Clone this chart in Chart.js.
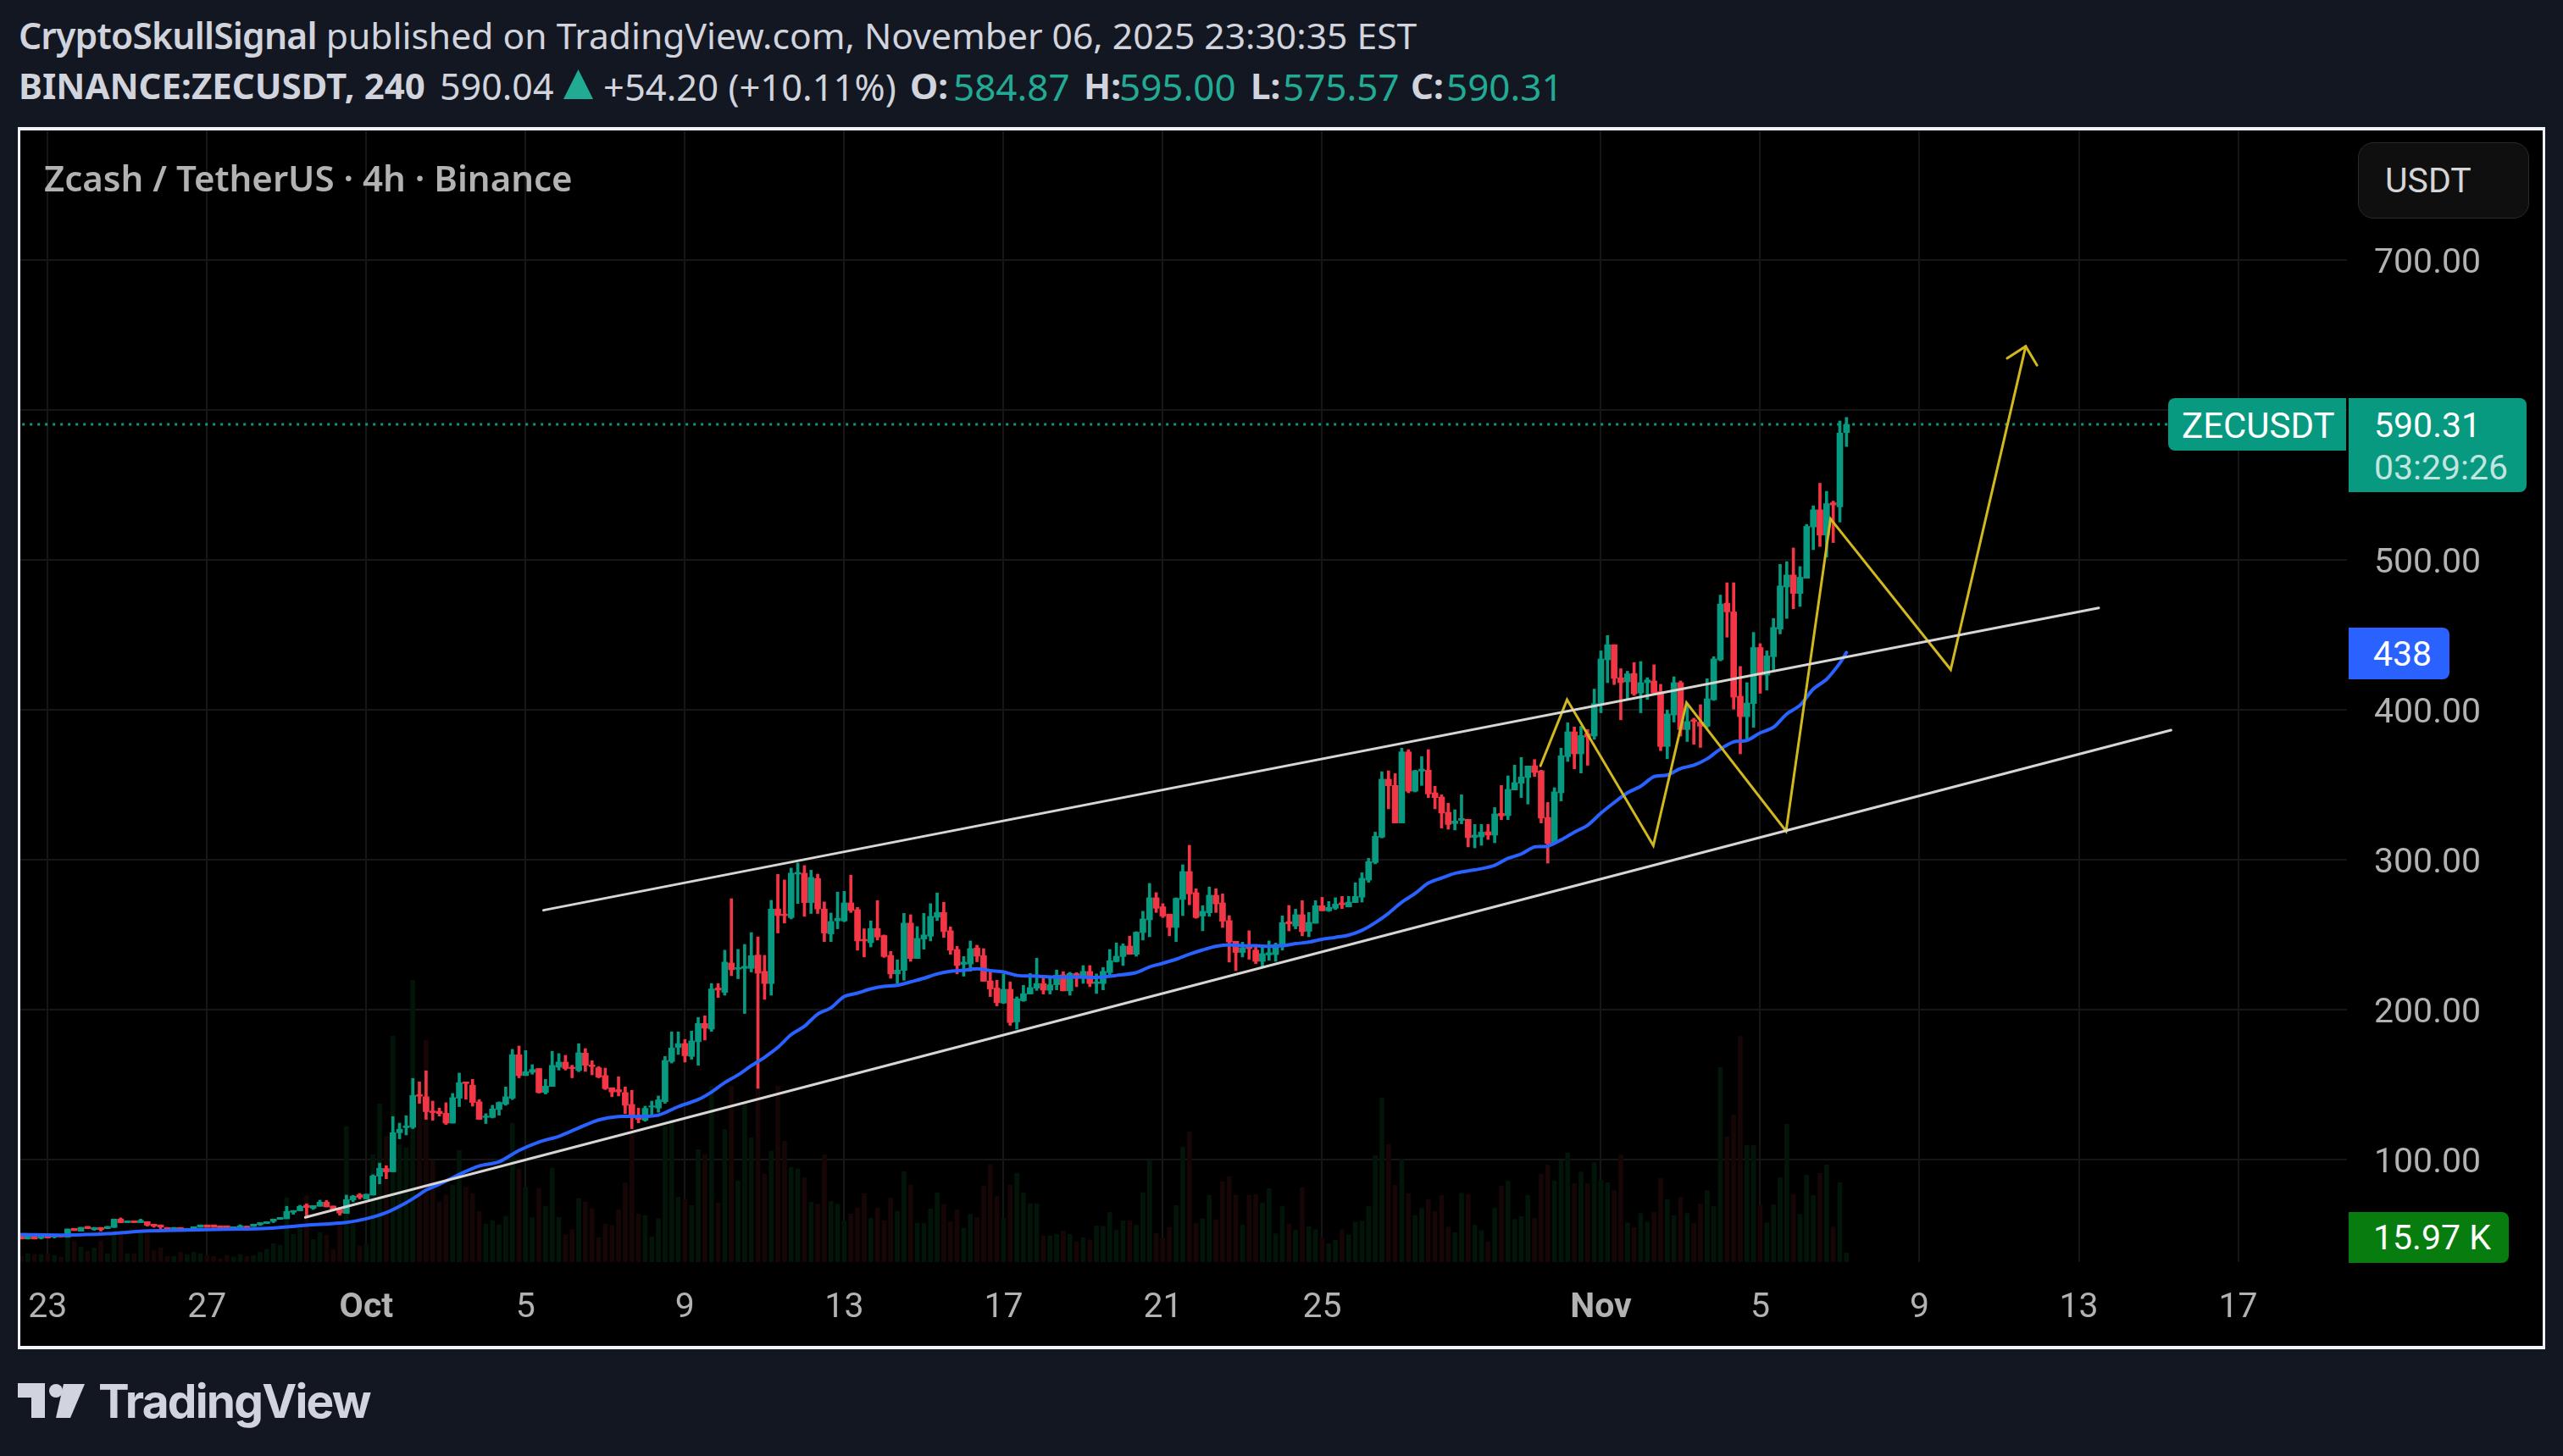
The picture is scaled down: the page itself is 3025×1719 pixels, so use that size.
<!DOCTYPE html>
<html lang="en">
<head>
<meta charset="UTF-8" />
<title>BINANCE:ZECUSDT, 240</title>
<style>
  html, body { margin: 0; width: 3025px; height: 1719px; background: #131722; overflow: hidden; }
  .head { position: absolute; left: 22px; font: 42.6px "Noto Sans", sans-serif; color: #d1d4dc; white-space: pre; }
  .head b { font-weight: 600; letter-spacing: -0.8px; }
  .bit { position: absolute; top: 72px; font: 44px "Noto Sans", sans-serif; color: #d1d4dc; white-space: pre; }
  .bit.b { font-weight: 700; font-size: 42px; }
  .up { color: #22ab94; }
  #tri { position: absolute; left: 665px; top: 82px; width: 35px; height: 35px; background: #22ab94; clip-path: polygon(50% 0, 100% 100%, 0 100%); }
  #frame { position: absolute; left: 21px; top: 150px; width: 2983px; height: 1443px; box-sizing: border-box;
    background: #000; border: solid #f0f3fa; border-width: 4px 3px; }
  canvas { position: absolute; left: 24px; top: 154px; }
  #title { position: absolute; left: 52px; top: 181px; font: 600 42px "Noto Sans", sans-serif; color: #b2b2b2; white-space: pre; }
  .tag { position: absolute; box-sizing: border-box; display: flex; align-items: center; font: 41px Roboto, sans-serif; color: #fff; }
  #unit { left: 2783px; top: 168px; width: 202px; height: 90px; padding-left: 31px; background: #0f0f0f; border: 1px solid #2a2a2a;
    border-radius: 18px; color: #d6d6d6; }
  #sym { left: 2559px; top: 470px; width: 210px; height: 62px; padding: 2px 0 0 16px; font-size: 42px; background: #089981; border-radius: 8px 0 0 8px; }
  #last { left: 2772px; top: 470px; width: 210px; height: 111px; padding: 2px 0 0 30px; background: #089981; border-radius: 0 8px 8px 0;
    flex-direction: column; align-items: flex-start; justify-content: center; line-height: 50px; }
  #last span { color: rgba(255,255,255,.75); }
  #ma { left: 2772px; top: 741px; width: 119px; height: 61px; padding-left: 29px; background: #2962ff; border-radius: 0 8px 8px 0; }
  #vol { left: 2772px; top: 1431px; width: 189px; height: 60px; padding-left: 29px; background: #067d0e; border-radius: 0 8px 8px 0; }
  #logo { position: absolute; left: 0; top: 1600px; }
  #brand { position: absolute; left: 116px; top: 1621px; font: 700 55px Inter, sans-serif; color: #d1d4dc; letter-spacing: -1.8px; }
</style>
</head>
<body>
<div class="head" style="top:12px"><b>CryptoSkullSignal</b> published on TradingView.com, November 06, 2025 23:30:35 EST</div>
<span class="bit b" style="left:22px">BINANCE:ZECUSDT, 240</span>
<span class="bit" style="left:519px;font-size:43px">590.04</span>
<div id="tri"></div>
<span class="bit" style="left:712px;font-size:43.5px">+54.20 (+10.11%)</span>
<span class="bit b" style="left:1074px">O:</span><span class="bit up" style="left:1125px">584.87</span>
<span class="bit b" style="left:1279px">H:</span><span class="bit up" style="left:1321px">595.00</span>
<span class="bit b" style="left:1476px">L:</span><span class="bit up" style="left:1514px">575.57</span>
<span class="bit b" style="left:1665px">C:</span><span class="bit up" style="left:1707px">590.31</span>
<div id="frame"></div>
<canvas id="chart" width="2977" height="1435"></canvas>
<div id="title">Zcash / TetherUS · 4h · Binance</div>
<div class="tag" id="unit">USDT</div>
<div class="tag" id="sym">ZECUSDT</div>
<div class="tag" id="last">590.31<span>03:29:26</span></div>
<div class="tag" id="ma">438</div>
<div class="tag" id="vol">15.97 K</div>
<svg id="logo" width="110" height="90" viewBox="0 1600 110 90" fill="#d1d4dc">
  <path d="M21 1633H53V1674H37V1650H21Z" /><circle cx="66" cy="1642" r="8" /><path d="M75 1634H100L83 1674H66Z" />
</svg>
<div id="brand">TradingView</div>

<script src="https://cdn.jsdelivr.net/npm/chart.js"></script>
<script>
// 4h candles
const opens = [
  49,47,49,47.5,49,48.3,49.6,48.3,54.1,52.2,
  55.4,53.3,54.7,53.9,54.7,60.3,57.9,59.1,57.9,58.6,
  56.9,56.4,54.7,53.3,54.7,52.8,53.5,54.8,56.4,56.4,
  55.8,55.8,53.9,54.3,55.6,55.4,56.5,57.3,58.8,60.1,
  60.5,64.8,65.8,69.5,67.5,68.8,71.6,69,66.7,64.1,
  73.1,76.5,73.7,76.3,88.9,94,91.8,117.9,121.3,121.5,
  143.4,141.9,132.4,132.2,130.9,124.3,140.9,151.8,149.6,138.5,
  128.1,128.1,133.4,137,140.9,169.9,156,158.2,160.7,144.7,
  148.8,161.6,165,161.6,159.4,171,163.1,161.2,156,147.9,
  146.6,144.7,136.8,129.2,126.2,135,134.3,138.6,165.4,174.8,
  177.4,168.8,178.6,190.8,187,214.4,211.5,231.1,226.9,227.5,
  227.5,236.4,225.5,217.4,267.1,263.7,261.4,290.4,291,271.4,
  287.4,267.1,250.5,259.2,259.2,271.2,266.7,246.9,244.7,254.1,
  249.4,236.2,223.8,226.2,257.7,234.1,247.1,249,261.6,264.8,
  252.6,240.1,230.2,230.4,241.1,236,219.2,214.4,204.4,213.6,
  191.8,205.9,210.4,214.3,217.4,212.9,216.6,223.2,212.5,224,
  220.8,225.5,217.4,217.4,224.7,232,235.4,242.4,236.9,251.4,
  259.9,274.6,268.6,263.7,254.8,273.5,292.1,278,262.4,264.6,
  276.3,271.2,259.4,245.6,238.1,242,239.7,232.2,236.5,236.7,
  242.6,258.7,255.7,263.3,252.3,257.6,269.3,265.9,267.6,271.2,
  268.5,271.4,275,286.4,298.1,315,353.7,349.5,324.5,371.9,
  345.7,359.1,359.7,344.6,341.8,331.6,324.1,326.2,326.9,314.9,
  315.2,318.6,316.4,330.9,329.4,346.5,351,354.8,362.7,359.3,
  328.2,310.9,344.6,368.7,385.3,370.6,384,382.5,403.4,433.3,
  443.4,421.4,418.6,424.2,411.2,418.1,419.2,412.1,375.5,396.5,
  418.1,386.8,393.3,391.8,389,406.7,433.3,471.1,465.3,409,
  395.4,404.1,441.5,423.1,435.4,453.8,481.9,489.9,477.6,487.7,
  521.9,533.4,516.5,538.1,535.3,584.87
];
const highs = [
  49,49,49,49,49,49.6,49.6,53.7,54.1,54.8,
  55.4,54.7,54.7,55.4,60.3,61.1,59.1,59.1,60.3,58.6,
  56.9,56.4,54.7,54.7,54.7,54.1,55.2,56.4,56.4,56.4,
  55.8,55.8,55.2,56.5,55.6,56.9,57.9,58.6,60.3,61.4,
  68.8,66,69.5,70.5,69.3,72.9,72.7,69,68,76.3,
  76.1,77.4,76.9,89.9,97.6,95.9,128.7,124.3,129.2,154.1,
  151.8,159.2,139,134.3,137.9,144.1,157.7,151.8,153.5,140,
  130.6,136.2,138.5,148.4,173.5,175.7,172.7,163.3,160.7,153.5,
  172.2,170.7,169.5,162.9,177.3,174,165.9,162,161,147.9,
  155.2,148.4,146.2,134.3,135.6,139,142.4,168.8,185.2,185.2,
  180.1,185.7,194.8,195.9,217.4,217.4,239.6,274,240.2,243.5,
  251.4,248.6,236.2,272.9,290.2,286.5,294.4,297.8,296.1,293,
  290.4,271.8,264.4,278.4,278.9,289.7,268.2,253.9,259.2,272.7,
  249.8,238.8,233.2,264.2,263.3,255.4,264.2,270.7,277.8,271.6,
  255.2,242.2,235.4,245.8,243,240.7,226.4,219.6,223.8,218.5,
  208.5,216.2,224.1,234.3,222.4,221.9,226.4,225.3,224.9,224.7,
  229.4,229.4,223.8,228.1,240.1,244.5,243.9,249,252,265.6,
  284.2,278,270.7,263.7,274.6,296.6,309.6,280.6,269.3,281.8,
  280.6,277.2,262.7,245.6,245,252.6,242.9,241.6,245.8,244.4,
  262.5,269.5,267,272.7,264.8,272.7,274.9,272.1,274.6,275.5,
  275.5,284.6,291.3,300.9,318.4,358.7,359.3,357.4,374.4,373.4,
  359.7,368.7,373.4,349,343.3,337.7,333.3,343.3,326.9,323.5,
  323.5,323.5,334.8,349.5,355.9,363.1,368.2,362.5,366.8,359.7,
  338.2,348,374.4,391.3,388.5,389,386.8,413.8,439.3,449.5,
  443.4,427.4,425.7,431.5,432.2,421.4,430,417,399.8,422,
  419.2,403,394.4,403.4,420.7,435.4,476.5,484.7,484.7,428.9,
  418.1,451.6,444.1,439.3,460.9,497,498.8,507.9,495.5,523.6,
  536,551.1,545.7,539.2,592.6,595
];
const lows = [
  47,47,47,47,47.7,47.7,48.4,48.3,52.6,52.2,
  53.9,52.8,52.2,53.9,54.7,57.9,57.9,57.9,57.9,55.6,
  54.8,53.9,53.3,53.3,53.3,52.8,53.5,54.8,54.8,54.8,
  54.5,53.2,53.9,54.3,53.5,55.4,56,57.3,57.9,60.1,
  60.5,63.5,65.8,62.6,66.7,68.8,68.4,66.7,62.9,64.1,
  71.8,73.7,73.7,76.3,83.8,87.2,91.8,113.8,116.4,120.6,
  137.5,126.8,126.2,129,123.4,124.3,135.3,140.3,135.6,126.8,
  124,127.7,129.6,136.2,140,154.5,156,156.9,144.3,143.7,
  148.8,159.7,159.7,154.5,158.6,158.8,156.5,154.5,146.7,141.9,
  142.4,130.6,120.6,124.5,125.5,129.6,131.5,137.5,164.4,170.1,
  165,166.9,162.9,179.7,185.5,208.1,209.6,222.6,220.6,197.4,
  225.1,147.5,206.8,209.6,251.1,257.7,260.5,270.8,262.2,264.1,
  264.1,245.4,245.4,253.9,258.6,264.8,239.6,235.1,241.8,246.4,
  234.8,220.9,217.5,219.6,232.2,234.1,240.3,245.8,259.4,248.2,
  236.9,223.8,222.3,225.6,231.9,218.9,208.7,202.5,204,189.5,
  187,205.5,210.4,212.8,210.4,210.4,213.2,212.5,209.6,215.3,
  217.5,215.3,210.8,213.2,221.9,231.7,229.4,236.9,235.6,246.4,
  248.6,264.8,261.4,249.2,245.4,262.7,269.9,260.9,252.6,262.2,
  264.8,254.8,231.7,226,235.1,233.6,230.7,228.4,232.9,232.2,
  239.7,252.5,253.9,249.2,248.6,257.6,265.9,265.5,266.7,267.4,
  268.5,271.4,271.7,284.9,297.2,314.5,333.9,324.5,324.5,344.6,
  345.2,349.5,341.4,333.9,321.1,320.3,319.8,323.9,308.5,307.9,
  309.6,313.5,311.3,326.7,326.7,346.5,341.4,337.1,355.5,324.5,
  297.7,310.9,339.2,365.5,360.6,357.8,363,380.3,398,418.1,
  416.8,393.3,407.3,409.5,398,406.9,410.6,372.7,367.3,391.8,
  382.4,378.8,377,374.9,387.9,406.2,432.6,448.4,400.4,370.6,
  379.6,388.3,411,413.2,426.8,450.6,460.9,467.4,468.9,487.7,
  506.8,508.9,501.8,511.5,525.2,575.57
];
const closes = [
  47,49,47,49,47.7,49.6,48.4,53.7,52.6,54.8,
  53.9,54.7,53.3,55.4,60.3,57.9,59.1,57.9,59.4,56.2,
  55.6,55,53.3,54.7,53.3,54.1,55.2,56.4,54.8,54.8,
  54.5,54.3,55.2,55.8,54.3,56.9,57.9,58.6,60.3,61.4,
  65.4,66,68.8,68,69.3,71.6,68.4,66.7,64.3,73.3,
  75.6,74.8,76.9,89.1,94.2,91.8,117.9,120.2,122.4,142.8,
  142.2,131.9,131.3,130.7,124.3,141.3,151.3,150.7,138.1,126.8,
  129,133.8,138.1,141.9,169.9,156,158.6,160.1,144.7,149,
  162.8,165,160.7,160.7,171.2,162.9,162,155,147.3,145.1,
  145.1,136.2,128.7,126.8,134.1,135.8,139.8,166.1,174.4,177.3,
  169.2,179.1,190.8,187.6,213.8,213,231.7,226.6,228.1,228.9,
  236,224.3,217.4,267.1,262.7,262.7,291,291.5,271.4,288.2,
  267.1,251.1,258.8,260.9,271.2,266.1,245.8,245.8,254.1,248.4,
  235.4,223.8,226.4,257.7,234.1,247.5,249.8,262.2,264.8,252,
  239.6,229.4,231.7,240.7,235.6,218.9,213.8,204.6,213.6,191.4,
  207.2,210.6,214.7,217.4,213,216.6,223,212.5,224.1,220.8,
  225.5,217.4,218.5,225.5,232.6,235.6,242.4,236.9,251.6,260.5,
  274.6,267.6,262.4,254.8,274.2,292.1,277.2,261.4,265.6,276.3,
  270.5,259,245.1,238.1,241.1,240.7,232.2,237.3,237.9,243.5,
  258,257.2,263.3,252,258.2,269.3,265.9,268.2,270.4,269.9,
  271.7,275.5,287.6,298.7,315.6,353.7,349.3,324.5,371.9,345.7,
  359.3,360.4,343.9,341.4,331.1,323.5,325.8,327.5,314.7,316.4,
  318.4,316.4,330.5,329.2,346.9,351.4,355.2,362.5,358.2,327.7,
  310.9,345.2,369.3,385.3,370.6,382.8,381.8,404.1,433.9,443.4,
  420.9,418.1,424,410.6,418.1,419.9,411.2,375.5,397.2,418.1,
  386.8,392.2,392.2,389,407.3,433.9,470.5,465.3,408.4,395.4,
  404.5,441.5,423.1,435.9,454.9,482.6,489.9,477.6,488.4,522.3,
  533.4,516.5,537.5,536.6,584.6,590.31
];
// volume in thousands
const volumes = [
  10,15,13.5,13.5,15,11.5,9,45,37.5,26.5,
  19.5,25,37.5,15,47.5,50,15,15,52.5,50,
  20,25,10,10,17.5,13.5,17.5,15,12.5,10,
  6,11.5,9,13.5,10,11.5,17.5,22.5,32.5,30,
  114,49,60,117.5,40,52.5,47.5,22.5,70,240,
  67.5,28.5,31.5,190,280,222.5,400,207.5,202.5,499,
  285,392.5,180,106.5,119,136.5,197.5,132.5,121.5,90,
  67.5,73.5,66,81,246,165,132.5,78.5,131,99,
  166.5,79,48.5,57.5,112.5,106.5,95,43.5,67.5,65,
  92.5,140,230,85,82.5,45,77,240,252.5,115,
  111.5,100,199,190,311.5,105,235,311.5,143.5,281,
  220,310,156,196.5,311.5,214,167.5,165,149,106,
  102.5,190,107.5,102.5,72.5,85,96,121,77.5,96,
  73.5,113.5,90,160,136.5,69,69,94,122.5,102,
  71.5,92.5,60,85,79,135,172.5,117,77.5,136.5,
  157.5,123,103.5,103.5,46.5,46.5,49,55,49,36,
  43,39,64,63.5,88,57,73,73,65,123,
  180,51,42,61.5,100,204,231,69,76.5,118.5,
  75,142.5,151.5,118.5,66,118.5,120,105,130,50,
  99,67.5,56,132,63,57.5,42.5,32.5,39,57.5,
  48.5,71,72.5,99,189,291,208.5,136,183,121,
  82.5,95,111,90,118,62,52,122,119.5,65.5,
  56,35.5,95.5,134.5,143.5,75.5,80.5,118,77.5,155.5,
  172,143.5,179.5,193,139,159.5,139,176,145,140.5,
  126.5,189.5,69.5,61,86,71,88,148,110.5,82,
  114.5,86,68.5,103,126.5,98.5,344.5,221.5,260.5,399.5,
  206.5,206.5,101.5,69.5,101.5,149.5,244,119.5,84.5,154,
  118,157,172,62,140.5,15.97
];
// moving average, read every few candles
const maIndex = [0,7,13,19,25,31,37,43,49,52,55,58,60,61,63,66,69,72,75,78,81,84,87,90,93,96,99,102,104,106,108,110,112,114,116,118,120,122,124,126,128,130,132,134,136,138,140,142,144,146,148,150,153,156,159,162,165,168,170,172,174,176,178,180,182,184,186,188,190,192,194,196,198,200,202,204,206,208,210,212,214,216,218,220,222,224,226,228,230,232,234,236,238,240,242,244,246,248,250,252,254,256,258,260,262,264,266,268,270,272,274,275];
const maValues = [50,49.6,50.5,52.4,53,53.5,54.1,56.2,58.1,60.5,64.6,71.2,76.7,79.7,83.5,90.1,95.7,98.5,106.1,111.7,115.5,121.1,126.4,128.7,128.7,129.6,135.3,140,145,151.3,156.4,162.6,168.2,174.8,183.3,188.9,197,201.2,208.7,211,213.8,215.5,216.2,218.5,220.9,223.8,225.6,226.2,227.2,226,225.1,222.8,222.3,221.7,221.9,221.5,222.8,224.7,228.5,230.9,233.6,236.9,239.8,242.2,243.2,242.6,242.6,242.2,242.6,244,245,246.9,248.2,249.7,252.9,258,264.2,271.7,277.4,284.4,287.8,290.9,292.5,294,296.2,300.9,303.8,308.5,309,313.2,318.4,323,331,338.1,344.6,349,355.4,356.5,360.8,363,367.3,373.8,378.6,379.6,384.6,388.3,397.2,403,413.8,420.3,431.1,438.2];

// drawings on the chart, as candle index and price
const channelTopX = [78.7, 313];
const channelTopY = [266.3, 467.9];
const channelLowX = [42.8, 323.9];
const channelLowY = [61.4, 386.4];
const zigzagX = [228.9, 232.9, 245.9, 250.9, 265.9, 272.6, 290.7, 302];
const zigzagY = [362.6, 406.7, 309.4, 404.7, 319.1, 527.3, 426.8, 642.4];
const arrowX = [299.2, 302, 303.7];
const arrowY = [634.4, 642.4, 629.8];
const lastPrice = 590.31;

const tickIndex = [4, 28, 52, 76, 100, 124, 148, 172, 196, 238, 262, 286, 310, 334];
const tickLabels = ['23', '27', 'Oct', '5', '9', '13', '17', '21', '25', 'Nov', '5', '9', '13', '17'];

const GREEN = '#089981', RED = '#f23645';
const isUp = opens.map((o, i) => closes[i] >= o);
const pairs = (xs, ys) => xs.map((x, i) => ({ x: x, y: ys[i] }));

function lineSet(data, color, width, extra) {
  return Object.assign({ type: 'line', data: data, borderColor: color, borderWidth: width, pointRadius: 0,
    yAxisID: 'y', tension: 0, borderCapStyle: 'round', borderJoinStyle: 'miter', order: 1 }, extra);
}
function barSet(data, colors, thick, axis, order) {
  return { type: 'bar', data: data, backgroundColor: colors, borderWidth: 0, barThickness: thick,
    grouped: false, yAxisID: axis, order: order };
}

new Chart(document.getElementById('chart'), {
  type: 'bar',
  data: {
    datasets: [
      barSet(volumes.map((v, i) => ({ x: i, y: v })), isUp.map(u => u ? '#031508' : '#170606'), 5, 'yVol', 6),
      barSet(opens.map((o, i) => ({ x: i, y: [lows[i], highs[i]] })), isUp.map(u => u ? GREEN : RED), 3, 'y', 5),
      barSet(opens.map((o, i) => ({ x: i, y: [o, closes[i]] })), isUp.map(u => u ? GREEN : RED), 7, 'y', 4),
      lineSet(pairs(maIndex, maValues), '#2962ff', 4, { order: 3, tension: 0.3 }),
      lineSet([{ x: -1, y: lastPrice }, { x: 323.5, y: lastPrice }], GREEN, 3, { order: 2, borderDash: [3, 6], borderCapStyle: 'butt' }),
      lineSet(pairs(channelTopX, channelTopY), '#d8d6d2', 3),
      lineSet(pairs(channelLowX, channelLowY), '#d8d6d2', 3),
      lineSet(pairs(zigzagX, zigzagY), '#d2b81f', 3),
      lineSet(pairs(arrowX, arrowY), '#d2b81f', 3)
    ]
  },
  options: {
    responsive: false,
    animation: false,
    devicePixelRatio: 1,
    layout: { padding: 0 },
    plugins: { legend: { display: false }, tooltip: { enabled: false } },
    scales: {
      x: {
        type: 'linear',
        offset: false,
        min: -0.128,
        max: 350.4,
        border: { display: false },
        // bar charts default to offset grid lines, keep them on the ticks
        grid: { offset: false, color: '#161616', lineWidth: 2, drawTicks: false, tickLength: 0 },
        afterBuildTicks: s => { s.ticks = tickIndex.map(v => ({ value: v })); },
        afterFit: s => { s.height = 99; s.paddingLeft = 0; s.paddingRight = 0; },
        ticks: {
          autoSkip: false,
          maxRotation: 0,
          padding: 30,
          color: '#b2b2b2',
          font: c => ({ family: 'Roboto', size: 41, weight: /[a-z]/.test(tickLabels[c.index] || '') ? 'bold' : 'normal' }),
          callback: (v, i) => tickLabels[i]
        }
      },
      y: {
        position: 'right',
        min: 31.64,
        max: 786.4,
        border: { display: false },
        grid: { color: '#161616', lineWidth: 2, drawTicks: false, tickLength: 0 },
        afterFit: s => { s.width = 231; s.paddingTop = 0; s.paddingBottom = 0; },
        ticks: {
          stepSize: 100,
          includeBounds: false,
          padding: 32,
          labelOffset: 5,
          color: '#b2b2b2',
          crossAlign: 'near',
          font: { family: 'Roboto', size: 41 },
          callback: v => v.toFixed(2)
        }
      },
      yVol: { display: false, min: 0, max: 2004 }
    }
  }
});
</script>
</body>
</html>
